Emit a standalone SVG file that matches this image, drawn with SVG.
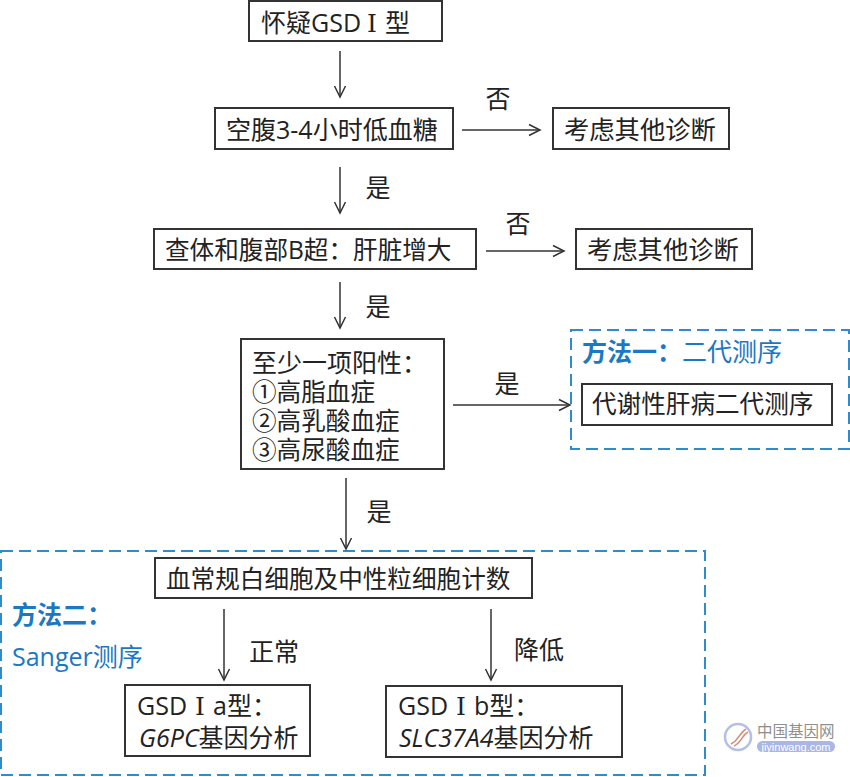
<svg xmlns="http://www.w3.org/2000/svg" width="850" height="777" viewBox="0 0 850 777">
<style>
.b{fill:#fff;stroke:#333;stroke-width:2}
.t{font-family:"Open Sans","Noto Sans CJK SC",sans-serif;font-size:25px;fill:#222}
.s{font-size:24.600px}
.w{font-size:25.300px}
.c{font-family:"Noto Sans CJK SC",sans-serif;font-size:25px;fill:#222}
.i{font-style:italic}
.r{font-family:"DejaVu Serif","Liberation Serif",serif}
.d{fill:none;stroke:#2f8ccb;stroke-width:2;stroke-dasharray:12 6}
.bl{font-family:"Open Sans","Noto Sans CJK SC",sans-serif;font-size:25px;fill:#1b78c2}
.bb{font-weight:700}
.l{fill:none;stroke:#333;stroke-width:1.5}
</style>
<defs>
<marker id="a" markerUnits="userSpaceOnUse" markerWidth="16" markerHeight="16" refX="13" refY="7" orient="auto"><path d="M2 1.500L13 7L2 12.500" fill="none" stroke="#333" stroke-width="1.500"/></marker>
</defs>
<rect width="850" height="777" fill="#fff"/>
<g id="group-method1">
<rect class="d" x="571" y="330" width="278" height="119"/>
<text class="bl" x="582" y="361"><tspan class="bb">方法一：</tspan><tspan>二代测序</tspan></text>
</g>
<g id="group-method2">
<rect class="d" x="1" y="551" width="704" height="224"/>
<text class="bl bb" x="12" y="624">方法二：</text>
<text class="bl" x="12" y="666">Sanger测序</text>
</g>
<g id="connectors">
<path class="l" marker-end="url(#a)" d="M340 51V97"/>
<path class="l" marker-end="url(#a)" d="M462 130H540"/>
<path class="l" marker-end="url(#a)" d="M340 167V213"/>
<path class="l" marker-end="url(#a)" d="M486 251H564"/>
<path class="l" marker-end="url(#a)" d="M340 282V328"/>
<path class="l" marker-end="url(#a)" d="M453 405H570"/>
<path class="l" marker-end="url(#a)" d="M346 478V549"/>
<path class="l" marker-end="url(#a)" d="M224 609V680"/>
<path class="l" marker-end="url(#a)" d="M491 609V680"/>
</g>
<g id="edge-labels">
<text class="c" x="498" y="108" text-anchor="middle">否</text>
<text class="c" x="378" y="197" text-anchor="middle">是</text>
<text class="c" x="518" y="233" text-anchor="middle">否</text>
<text class="c" x="378" y="316" text-anchor="middle">是</text>
<text class="c" x="507" y="393" text-anchor="middle">是</text>
<text class="c" x="379" y="521" text-anchor="middle">是</text>
<text class="c" x="274" y="661" text-anchor="middle">正常</text>
<text class="c" x="539" y="659" text-anchor="middle">降低</text>
</g>
<g id="n1"><rect class="b" x="249" y="1" width="193" height="40"/><text class="t" x="261" y="32">怀疑GSD<tspan class="r" x="367">Ⅰ</tspan><tspan x="385">型</tspan></text></g>
<g id="n2"><rect class="b" x="215" y="108" width="238" height="41"/><text class="t" x="226" y="139">空腹3-4小时低血糖</text></g>
<g id="n3"><rect class="b" x="553" y="108" width="176" height="41"/><text class="t w" x="564" y="139">考虑其他诊断</text></g>
<g id="n4"><rect class="b" x="154" y="229" width="322" height="40"/><text class="t s" x="165" y="259">查体和腹部B超：肝脏增大</text></g>
<g id="n5"><rect class="b" x="576" y="229" width="176" height="40"/><text class="t w" x="587" y="259">考虑其他诊断</text></g>
<g id="n6"><rect class="b" x="241" y="339" width="203" height="130"/>
<text class="t" x="252" y="372">至少一项阳性：</text>
<text class="t s" x="252" y="401">①高脂血症</text>
<text class="t s" x="252" y="430">②高乳酸血症</text>
<text class="t s" x="252" y="459">③高尿酸血症</text></g>
<g id="n7"><rect class="b" x="582" y="384" width="250" height="41"/><text class="t s" x="592" y="413">代谢性肝病二代测序</text></g>
<g id="n8"><rect class="b" x="155" y="558" width="377" height="40"/><text class="t s" x="166" y="588">血常规白细胞及中性粒细胞计数</text></g>
<g id="n9"><rect class="b" x="125" y="685" width="185" height="71"/>
<text class="t" x="137" y="715">GSD<tspan class="r" x="195">Ⅰ</tspan><tspan x="213">a型：</tspan></text>
<text class="t" x="139" y="747"><tspan class="i">G6PC</tspan>基因分析</text></g>
<g id="n10"><rect class="b" x="386" y="686" width="236" height="71"/>
<text class="t" x="398" y="715">GSD<tspan class="r" x="456">Ⅰ</tspan><tspan x="474">b型：</tspan></text>
<text class="t" x="399" y="747"><tspan class="i">SLC37A4</tspan>基因分析</text></g>
<g id="watermark">
<circle cx="738" cy="737" r="13" fill="#fff" stroke="#b4bfe6" stroke-width="2.500"/>
<path d="M731 744C739 740 739 733 746 729M734 746C742 742 742 735 748 732" fill="none" stroke="#d98a7a" stroke-width="1.500"/>
<text x="757" y="737" font-family="Noto Sans CJK SC,sans-serif" font-size="15.500" fill="#8f8f8f">中国基因网</text>
<rect x="757" y="741" width="78" height="11" rx="5.500" fill="#a9b6e6"/>
<text x="796" y="750.500" text-anchor="middle" font-family="Liberation Sans,sans-serif" font-size="11" fill="#fff">jiyinwang.com</text>
</g>
</svg>
